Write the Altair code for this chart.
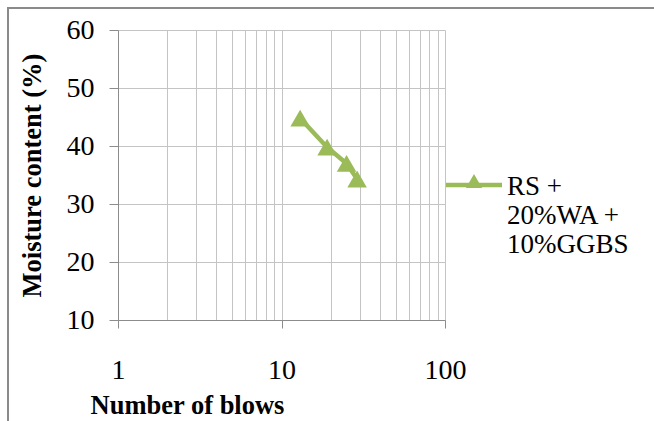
import altair as alt
import pandas as pd

# ---- data ----
blows = [13, 19, 25, 29]
moisture = [44.8, 39.8, 37.0, 34.3]
series_name = "RS +\n20%WA +\n10%GGBS"

x_grid_values = [1, 2, 3, 4, 5, 6, 7, 8, 9, 10, 20, 30, 40, 50, 60, 70, 80, 90, 100]
x_label_values = [1, 10, 100]
y_values = [10, 20, 30, 40, 50, 60]

GREEN = "#9BBB59"
FONT = "'Liberation Serif', 'Times New Roman', Times, 'DejaVu Serif', serif"
GRID = "#c4c4c4"
AXIS = "#8c8c8c"

df = pd.DataFrame({"blows": blows, "moisture": moisture, "series": [series_name] * len(blows)})

major_test = " || ".join(f"datum.value == {v}" for v in x_label_values)

x_enc = alt.X(
    "blows:Q",
    scale=alt.Scale(type="log", domain=[1, 100], nice=False),
    axis=alt.Axis(
        values=x_grid_values,
        grid=True,
        gridColor=GRID,
        gridWidth=1,
        domainColor=AXIS,
        tickColor=AXIS,
        tickSize=8,
        tickOpacity={"condition": {"test": major_test, "value": 1}, "value": 0},
        labelExpr=f"({major_test}) ? format(datum.value, 'd') : ''",
        labelFont=FONT,
        labelFontSize=28,
        labelColor="black",
        labelBaseline="alphabetic",
        labelPadding=50,
        labelFlush=False,
        labelOverlap=False,
        title="Number of blows",
        titleFont=FONT,
        titleFontSize=26.5,
        titleFontWeight="bold",
        titleColor="black",
        titleAlign="center",
        titleBaseline="alphabetic",
        titleX=69,
        titleY=93,
    ),
)

y_enc = alt.Y(
    "moisture:Q",
    scale=alt.Scale(domain=[10, 60], nice=False, zero=False),
    axis=alt.Axis(
        values=y_values,
        grid=True,
        gridColor=GRID,
        gridWidth=1,
        domainColor=AXIS,
        tickColor=AXIS,
        tickSize=9,
        labelFont=FONT,
        labelFontSize=28,
        labelColor="black",
        labelPadding=15,
        title="Moisture content (%)",
        titleFont=FONT,
        titleFontSize=26.5,
        titleFontWeight="bold",
        titleColor="black",
        titleAngle=270,
        titleAlign="center",
        titleBaseline="middle",
        titleX=-86,
        titleY=145,
    ),
)

base = alt.Chart(df)
line = base.mark_line(color=GREEN, strokeWidth=4.5).encode(x=x_enc, y=y_enc)
points = base.mark_point(shape="triangle-up", filled=True, size=380, color=GREEN, opacity=1).encode(
    x="blows:Q", y="moisture:Q"
)

# ---- custom legend (positions are layout, not data) ----
legend_src = alt.Data(values=[{"series": series_name}])
leg_line = alt.Chart(legend_src).mark_rule(color=GREEN, strokeWidth=4.5).encode(
    x=alt.value(328), x2=alt.value(384), y=alt.value(155)
)
leg_point = alt.Chart(legend_src).mark_point(shape="triangle-up", filled=True, size=260, color=GREEN, opacity=1).encode(
    x=alt.value(356), y=alt.value(151)
)
leg_text = alt.Chart(legend_src).mark_text(
    align="left", baseline="alphabetic", font=FONT, fontSize=27, color="black",
    lineBreak="\n", lineHeight=29,
).encode(x=alt.value(389), y=alt.value(165), text="series:N")

# ---- outer chart-area border (top and left edges visible) ----
border_src = alt.Data(values=[{}])
border_top = alt.Chart(border_src).mark_rule(color="#8a8a8a", strokeWidth=2).encode(
    x=alt.value(-111), x2=alt.value(540), y=alt.value(-22)
)
border_left = alt.Chart(border_src).mark_rule(color="#8a8a8a", strokeWidth=2).encode(
    x=alt.value(-110), y=alt.value(-23), y2=alt.value(395)
)

chart = (
    alt.layer(line, points, leg_line, leg_point, leg_text, border_top, border_left)
    .properties(
        width=327,
        height=290,
        autosize=alt.AutoSizeParams(type="none"),
        padding={"left": 118, "top": 30, "right": 209, "bottom": 101},
        background="white",
    )
    .configure_view(stroke=None)
)

chart.save("out.html", embed_options={"renderer": "svg", "actions": False})
